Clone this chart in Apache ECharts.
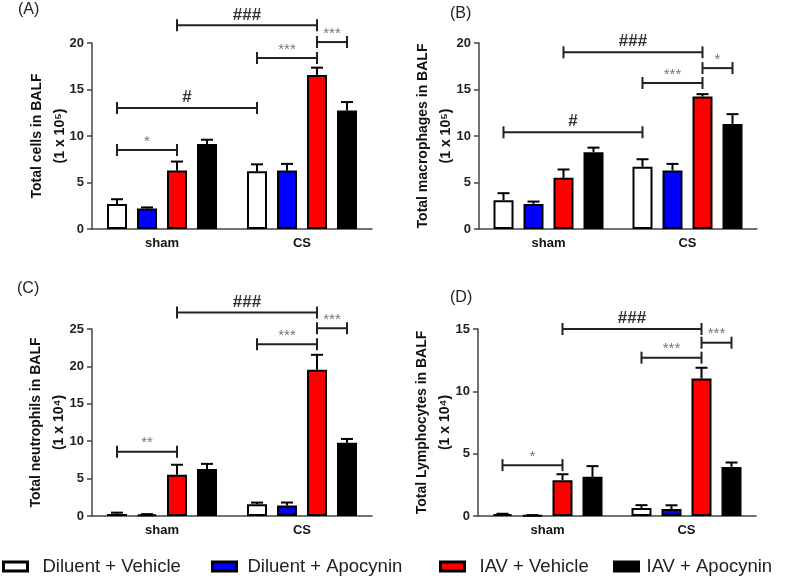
<!DOCTYPE html>
<html>
<head>
<meta charset="utf-8">
<script src="https://cdn.jsdelivr.net/npm/echarts@6/dist/echarts.min.js"></script>
<style>
  html, body { margin: 0; background: #fff; }
  #main { width: 787px; height: 580px; }
</style>
</head>
<body>
<div id="main"></div>
<script>
const categories = ['sham', 'CS'];
const groups = ['Diluent + Vehicle', 'Diluent + Apocynin', 'IAV + Vehicle', 'IAV + Apocynin'];

// means and SEM, one row per group: [sham, CS]
const cellsMean = [[2.7, 6.2], [2.2, 6.3], [6.3, 16.55], [9.15, 12.75]];
const cellsSem = [[0.5, 0.75], [0.12, 0.7], [0.95, 0.8], [0.45, 0.9]];
const macroMean = [[3.1, 6.7], [2.7, 6.3], [5.5, 14.25], [8.25, 11.3]];
const macroSem = [[0.75, 0.8], [0.25, 0.7], [0.9, 0.25], [0.5, 1.05]];
const neutroMean = [[0.27, 1.56], [0.2, 1.4], [5.5, 19.55], [6.3, 9.8]];
const neutroSem = [[0.18, 0.23], [0.05, 0.4], [1.35, 2.0], [0.67, 0.5]];
const lymphoMean = [[0.15, 0.65], [0.05, 0.56], [2.87, 11.03], [3.14, 3.94]];
const lymphoSem = [[0.03, 0.22], [0.02, 0.3], [0.48, 0.86], [0.86, 0.35]];

// significance brackets: [cat1, group1, cat2, group2, y, mark]
const cellsSig = [[0, 2, 1, 2, 21.9, '###'], [1, 0, 1, 2, 18.4, '***'], [1, 2, 1, 3, 20.1, '***'], [0, 0, 1, 0, 13.0, '#'], [0, 0, 0, 2, 8.5, '*']];
const macroSig = [[0, 2, 1, 2, 19.0, '###'], [1, 0, 1, 2, 15.7, '***'], [1, 2, 1, 3, 17.3, '*'], [0, 0, 1, 0, 10.4, '#']];
const neutroSig = [[0, 2, 1, 2, 27.2, '###'], [1, 0, 1, 2, 22.95, '***'], [1, 2, 1, 3, 25.1, '***'], [0, 0, 0, 2, 8.6, '**']];
const lymphoSig = [[0, 2, 1, 2, 15.0, '###'], [1, 0, 1, 2, 12.7, '***'], [1, 2, 1, 3, 13.9, '***'], [0, 0, 0, 2, 4.08, '*']];

const yMax = [20, 20, 25, 15];
const yNames = [
  'Total cells in BALF\n(1 x 10⁵)',
  'Total macrophages in BALF\n(1 x 10⁵)',
  'Total neutrophils in BALF\n(1 x 10⁴)',
  'Total Lymphocytes in BALF\n(1 x 10⁴)'
];
const panelLabels = ['(A)', '(B)', '(C)', '(D)'];

const colors = ['#ffffff', '#0000ff', '#ff0000', '#000000'];
const font = 'Liberation Sans';
const barW = 20;
const slot = 30; // bar width + gap

const panels = [
  { mean: cellsMean, sem: cellsSem, sig: cellsSig },
  { mean: macroMean, sem: macroSem, sig: macroSig },
  { mean: neutroMean, sem: neutroSem, sig: neutroSig },
  { mean: lymphoMean, sem: lymphoSem, sig: lymphoSig }
];

const layout = [
  { left: 92, top: 43, width: 280, height: 186, lx: 18, ly: 2, gap: 20 },
  { left: 479, top: 43, width: 278, height: 186, lx: 450, ly: 6, gap: 21 },
  { left: 92, top: 329, width: 280, height: 187, lx: 17, ly: 281, gap: 21 },
  { left: 478, top: 329, width: 278, height: 187, lx: 450, ly: 290, gap: 21 }
];

const grids = [], xAxes = [], yAxes = [], titles = [], series = [];

layout.forEach((l, p) => {
  grids.push({ left: l.left, top: l.top, width: l.width, height: l.height });
  titles.push({
    text: panelLabels[p], left: l.lx, top: l.ly, padding: 0,
    textStyle: { fontFamily: font, fontSize: 16, fontWeight: 'normal', color: '#222' }
  });
  xAxes.push({
    type: 'category', gridIndex: p, data: categories,
    axisLine: { lineStyle: { color: '#444', width: 1.5 } },
    axisTick: { alignWithLabel: true, length: 5, lineStyle: { color: '#444', width: 1.5 } },
    axisLabel: { fontFamily: font, fontSize: 13, fontWeight: 'bold', color: '#111', margin: 8 }
  });
  yAxes.push({
    type: 'value', gridIndex: p, min: 0, max: yMax[p], interval: 5,
    name: yNames[p], nameLocation: 'middle', nameGap: l.gap, nameMoveOverlap: false,
    nameTextStyle: { fontFamily: font, fontSize: 14, fontWeight: 'bold', color: '#111', lineHeight: 23 },
    axisLine: { show: true, lineStyle: { color: '#444', width: 1.5 } },
    axisTick: { show: true, length: 5, lineStyle: { color: '#444', width: 1.5 } },
    axisLabel: { fontFamily: font, fontSize: 13, fontWeight: 'bold', color: '#222', margin: 8 },
    splitLine: { show: false }
  });
});

panels.forEach((d, p) => {
  groups.forEach((g, gi) => {
    series.push({
      type: 'bar', name: g, xAxisIndex: p, yAxisIndex: p,
      data: d.mean[gi], barWidth: barW, barGap: '50%',
      itemStyle: { color: colors[gi], borderColor: '#000', borderWidth: 2 }
    });
  });

  const errData = [];
  d.mean.forEach((row, gi) => row.forEach((m, c) => errData.push([c, m, m + d.sem[gi][c], gi])));
  series.push({
    type: 'custom', xAxisIndex: p, yAxisIndex: p, clip: false, z: 3,
    encode: { x: 0, y: 1 }, data: errData,
    renderItem: (params, api) => {
      const gi = api.value(3);
      const base = api.coord([api.value(0), api.value(1)]);
      const top = api.coord([api.value(0), api.value(2)]);
      const x = base[0] + (gi - 1.5) * slot;
      const st = { stroke: '#000', lineWidth: 2 };
      return {
        type: 'group', children: [
          { type: 'line', shape: { x1: x, y1: base[1], x2: x, y2: top[1] }, style: st },
          { type: 'line', shape: { x1: x - 6, y1: top[1], x2: x + 6, y2: top[1] }, style: st }
        ]
      };
    }
  });

  series.push({
    type: 'custom', xAxisIndex: p, yAxisIndex: p, clip: false, z: 4,
    encode: { x: 0, y: 4 }, data: d.sig.map(s => s.slice(0, 5)),
    renderItem: (params, api) => {
      const s = d.sig[params.dataIndex];
      const p1 = api.coord([s[0], s[4]]);
      const p2 = api.coord([s[2], s[4]]);
      const x1 = p1[0] + (s[1] - 1.5) * slot;
      const x2 = p2[0] + (s[3] - 1.5) * slot;
      const y = p1[1];
      const star = s[5].indexOf('*') >= 0;
      const st = { stroke: '#222', lineWidth: 2 };
      return {
        type: 'group', children: [
          { type: 'line', shape: { x1: x1, y1: y, x2: x2, y2: y }, style: st },
          { type: 'line', shape: { x1: x1, y1: y - 6, x2: x1, y2: y + 6 }, style: st },
          { type: 'line', shape: { x1: x2, y1: y - 6, x2: x2, y2: y + 6 }, style: st },
          {
            type: 'text',
            style: {
              text: s[5], x: (x1 + x2) / 2, y: star ? y - 1 : y - 2,
              align: 'center', verticalAlign: 'bottom',
              font: star ? 'normal 15px "Liberation Sans"' : 'bold 17px "Liberation Sans"',
              fill: star ? '#777' : '#333'
            }
          }
        ]
      };
    }
  });
});

const legendPos = [{ left: 2, pad: 10 }, { left: 211, pad: 6 }, { left: 439, pad: 10 }, { left: 613, pad: 3 }];
const legends = groups.map((g, gi) => ({
  data: [g], left: legendPos[gi].left, top: 557, padding: 0,
  icon: 'rect', itemWidth: 24, itemHeight: 9, selectedMode: false,
  itemStyle: { borderColor: '#000', borderWidth: 3 },
  textStyle: { fontFamily: font, fontSize: 18.5, color: '#222', padding: [0, 0, 0, legendPos[gi].pad] }
}));

const chart = echarts.init(document.getElementById('main'));
chart.setOption({
  animation: false,
  textStyle: { fontFamily: font },
  title: titles,
  legend: legends,
  grid: grids,
  xAxis: xAxes,
  yAxis: yAxes,
  series: series
});
</script>
</body>
</html>
